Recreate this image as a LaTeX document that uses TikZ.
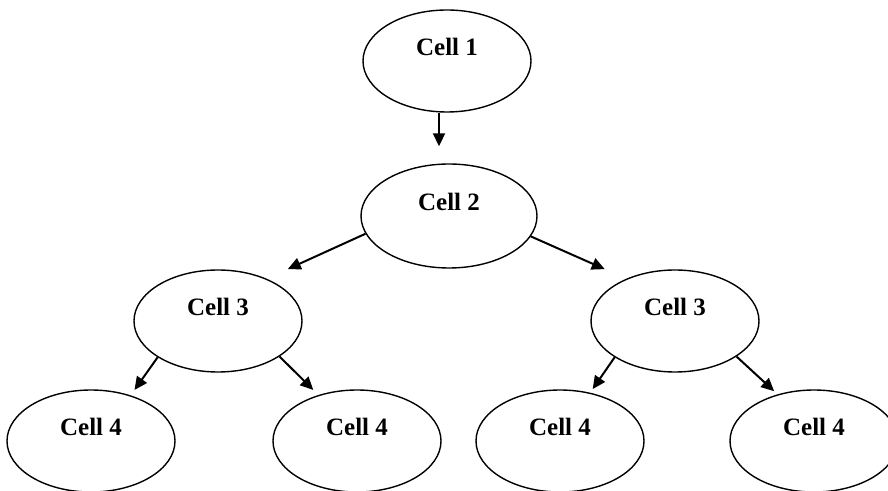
\documentclass[tikz,border=0pt]{standalone}
\usepackage{fontspec}
\setmainfont{Liberation Serif}
\usepackage{tikz}
\usetikzlibrary{arrows.meta,shapes.geometric}
\tikzset{
  cellnode/.style={ellipse, draw=black, line width=0.7pt, fill=white, inner sep=0pt,
    minimum width=84pt, minimum height=51pt, text height=8pt, text depth=13.5pt,
    font=\fontsize{12.5}{14}\selectfont\bfseries},
  cellarrow/.style={-{Triangle[length=6.5pt,width=6pt]}, line width=1pt, black},
}

\begin{document}
\begin{tikzpicture}[x=0.5pt, y=-0.5pt]
  \useasboundingbox (0,0) rectangle (888,491);
  \node[cellnode] (c1) at (447,61) {Cell 1};
  \node[cellnode, minimum width=88pt, minimum height=52pt] (c2) at (449,216) {Cell 2};
  \node[cellnode] (c3l) at (218,321) {Cell 3};
  \node[cellnode] (c3r) at (675,321) {Cell 3};
  \node[cellnode] (c4a) at (91,441) {Cell 4};
  \node[cellnode] (c4b) at (357,441) {Cell 4};
  \node[cellnode] (c4c) at (560,441) {Cell 4};
  \node[cellnode] (c4d) at (814,441) {Cell 4};
  % tree edges
  \draw[cellarrow, shorten >=8.5pt] ([xshift=-4pt]c1.south) -- ([xshift=-5pt]c2.north);
  \draw[cellarrow, shorten >=11.6pt] (c2.192) -- (c3l.41);
  \draw[cellarrow, shorten >=11.8pt] (c2.346) -- (c3r.139);
  \draw[cellarrow, shorten >=3.3pt] (c3l.211) -- (c4a.49);
  \draw[cellarrow, shorten >=3.6pt] (c3l.330) -- (c4b.130);
  \draw[cellarrow, shorten >=2.2pt] (c3r.211) -- (c4c.58);
  \draw[cellarrow, shorten >=2.3pt] (c3r.330) -- (c4d.128);
\end{tikzpicture}
\end{document}
